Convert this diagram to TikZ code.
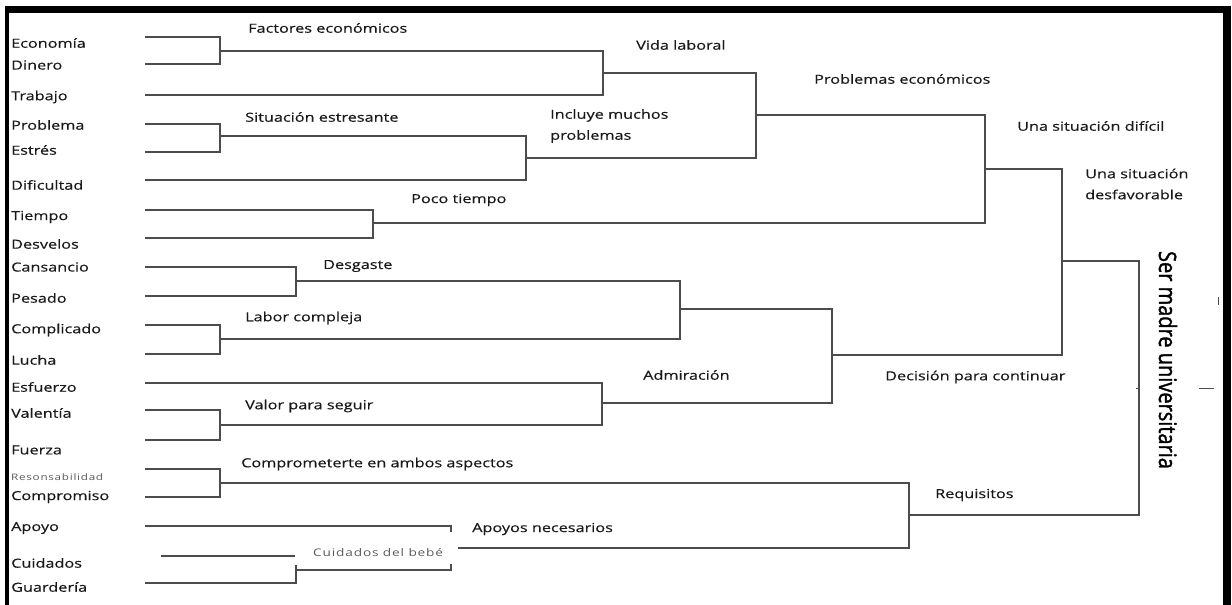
\documentclass[tikz,border=0pt]{standalone}
\usepackage{fontspec}
\setmainfont{Open Sans}[FakeStretch=1.3,FakeBold=0.4]
\newfontfamily\smallfont{Open Sans}[FakeStretch=1.3,LetterSpace=8]
\newfontfamily\titlefont{Open Sans}[FakeBold=1.6]
\begin{document}
\begin{tikzpicture}
  [x=1pt,y=-1pt,
   every node/.style={inner sep=0pt,text=black!90,font=\fontsize{12.5}{15}\selectfont},
   leaf/.style={anchor=west},
   tag/.style={anchor=west,align=left},
   tiny/.style={anchor=west,text=black!65,font=\smallfont\fontsize{10.5}{12}\selectfont},
   link/.style={draw=black!70,line width=1.4pt}]
  \useasboundingbox (0,0) rectangle (1232,605);
  % marco
  \fill (5,6) rectangle (1231,13);
  \fill (5,6) rectangle (9,605);
  \fill (1223,6) rectangle (1231,605);

  % palabras
  \node[leaf] (wEco) at (11,43)  {Economía};
  \node[leaf] (wDin) at (11,65)  {Dinero};
  \node[leaf] (wTra) at (11,97)  {Trabajo};
  \node[leaf] (wPro) at (11,125) {Problema};
  \node[leaf] (wEst) at (11,150) {Estrés};
  \node[leaf] (wDif) at (11,185) {Dificultad};
  \node[leaf] (wTie) at (11,217) {Tiempo};
  \node[leaf] (wDes) at (11,244) {Desvelos};
  \node[leaf] (wCan) at (11,267) {Cansancio};
  \node[leaf] (wPes) at (11,298) {Pesado};
  \node[leaf] (wCom) at (11,330) {Complicado};
  \node[leaf] (wLuc) at (11,360) {Lucha};
  \node[leaf] (wEsf) at (11,387) {Esfuerzo};
  \node[leaf] (wVal) at (11,413) {Valentía};
  \node[leaf] (wFue) at (11,450) {Fuerza};
  \node[tiny,font=\smallfont\fontsize{9}{10}\selectfont] (wRes) at (11,477) {Resonsabilidad};
  \node[leaf] (wCmp) at (11,497) {Compromiso};
  \node[leaf] (wApo) at (11,528) {Apoyo};
  \node[leaf] (wCui) at (11,563) {Cuidados};
  \node[leaf] (wGua) at (11,587) {Guardería};

  % inicio de las lineas
  \coordinate (eco) at (145,37);
  \coordinate (din) at (145,64);
  \coordinate (tra) at (145,95);
  \coordinate (pro) at (145,124);
  \coordinate (est) at (145,152);
  \coordinate (dif) at (145,180);
  \coordinate (tie) at (145,210);
  \coordinate (des) at (145,238);
  \coordinate (can) at (145,267);
  \coordinate (pes) at (145,296);
  \coordinate (com) at (145,325);
  \coordinate (luc) at (145,354);
  \coordinate (esf) at (145,383);
  \coordinate (val) at (145,410);
  \coordinate (fue) at (145,440);
  \coordinate (res) at (145,469);
  \coordinate (cmp) at (145,497);
  \coordinate (apo) at (145,526);
  \coordinate (cui) at (161,556);
  \coordinate (gua) at (145,583);

  % uniones
  \coordinate (fac) at (220,51);
  \coordinate (vid) at (603,73);
  \coordinate (sit) at (220,136);
  \coordinate (inc) at (526,158);
  \coordinate (pec) at (756,115);
  \coordinate (poc) at (373,223);
  \coordinate (sdi) at (985,169);
  \coordinate (dsg) at (296,281);
  \coordinate (lab) at (220,339);
  \coordinate (dl)  at (680,309);
  \coordinate (vps) at (220,425);
  \coordinate (adm) at (602,403);
  \coordinate (dec) at (832,355);
  \coordinate (sdf) at (1062,261);
  \coordinate (cea) at (220,483);
  \coordinate (req) at (909,515);
  \coordinate (root) at (1139,388);
  \coordinate (cuie) at (295,556);
  \coordinate (apoe) at (451,532);
  \coordinate (cdbt) at (296,565);
  \coordinate (cdb)  at (296,570);
  \coordinate (cdbe) at (451,564);
  \coordinate (apn)  at (458,548);

  \foreach \a/\j/\b in {eco/fac/din, fac/vid/tra, pro/sit/est, sit/inc/dif,
      vid/pec/inc, tie/poc/des, pec/sdi/poc, can/dsg/pes, com/lab/luc,
      dsg/dl/lab, val/vps/fue, esf/adm/vps, dl/dec/adm, sdi/sdf/dec,
      res/cea/cmp, cea/req/apn, sdf/root/req}
    \draw[link] (\a) -| (\j) |- (\b);

  \draw[link] (apo) -| (apoe);
  \draw[link] (cui) -- (cuie);
  \draw[link] (cdbt) |- (gua);
  \draw[link] (cdb) -| (cdbe);

  % marcas sueltas
  \draw[link,line width=1pt] (1136,388) -- (root);
  \draw[link,line width=1pt] (1199,388) -- (1214,388);
  \draw[link,line width=1pt] (1218,297) -- (1218,305);

  % etiquetas
  \node[tag] (lFac) at (248,28)  {Factores económicos};
  \node[tag] (lVid) at (636,45)  {Vida laboral};
  \node[tag] (lPec) at (814,79)  {Problemas económicos};
  \node[tag] (lSdi) at (1017,126) {Una situación difícil};
  \node[tag,font=\fontsize{12.5}{21}\selectfont] (lSdf) at (1085,184) {Una situación\\desfavorable};
  \node[tag] (lSit) at (245,117) {Situación estresante};
  \node[tag,font=\fontsize{12.5}{21}\selectfont] (lInc) at (550,126) {Incluye muchos\\problemas};
  \node[tag] (lPoc) at (411,200) {Poco tiempo};
  \node[tag] (lDsg) at (323,266) {Desgaste};
  \node[tag] (lLab) at (245,318) {Labor compleja};
  \node[tag] (lAdm) at (643,375) {Admiración};
  \node[tag] (lDec) at (885,377) {Decisión para continuar};
  \node[tag] (lVps) at (245,406) {Valor para seguir};
  \node[tag] (lCea) at (241,464) {Comprometerte en ambos aspectos};
  \node[tag] (lReq) at (935,495) {Requisitos};
  \node[tag] (lApn) at (472,529) {Apoyos necesarios};
  \node[tiny] (lCdb) at (313,553) {Cuidados del bebé};

  \node[font=\titlefont\fontsize{20}{24}\selectfont,text=black,xscale=1.2,rotate=-90] (ser) at (1168,360) {Ser madre universitaria};

\end{tikzpicture}
\end{document}
